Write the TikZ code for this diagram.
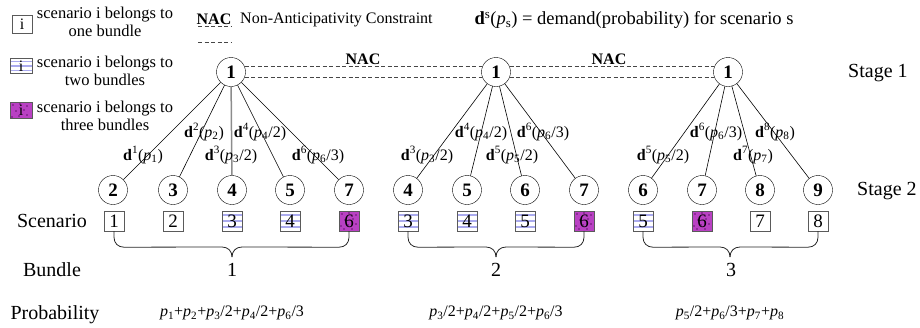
\documentclass[tikz,border=0pt]{standalone}
\usepackage{fontspec}
\setmainfont{Liberation Serif}
\usetikzlibrary{calc}
\definecolor{stripecol}{RGB}{170,170,238}
\definecolor{purp}{RGB}{185,65,195}
\definecolor{purpdot}{RGB}{100,20,110}
\definecolor{boxgray}{RGB}{90,90,90}
\definecolor{dashgray}{RGB}{70,70,70}
\newcommand\myfs[1]{\fontsize{#1}{#1}\selectfont}
\newcommand\dd[3]{\textbf{d}\textsuperscript{#1}(\textit{p}\textsubscript{#2}#3)}
\newcommand\ps[1]{\textit{p}\textsubscript{#1}}
\begin{document}
\begin{tikzpicture}[x=1pt,y=-1pt,
  stnode/.style={circle,draw,minimum size=29pt,inner sep=0pt,font=\myfs{19}\bfseries},
  onebox/.style={draw=boxgray,minimum width=20pt,minimum height=20pt,inner sep=0pt,font=\myfs{19}},
  twobox/.style={onebox,path picture={\foreach \f in {0.2,0.5,0.8}\draw[stripecol,line width=1.8pt] ($(path picture bounding box.south west)!\f!(path picture bounding box.north west)$) -- ($(path picture bounding box.south east)!\f!(path picture bounding box.north east)$);}},
  threebox/.style={onebox,fill=purp,path picture={\foreach \x/\y in {3/3,10/2,17/4,6/9,14/8,2/15,9/14,17/13,5/18,13/18} \fill[purpdot] ($(path picture bounding box.north west)+(\x pt,-\y pt)$) circle (0.9pt);}},
  edge/.style={line width=0.6pt},
  nacline/.style={draw=dashgray,dash pattern=on 4pt off 2.5pt,line width=0.6pt},
  elab/.style={font=\myfs{16},inner sep=0pt},
  big/.style={font=\myfs{20},inner sep=0pt},
  brace/.style={line width=0.8pt,draw=black!85},
  legtext/.style={font=\myfs{16.5},align=center,inner sep=0pt}
]
\useasboundingbox (0,0) rectangle (920,327);

% legend
\node[onebox,minimum width=20pt,minimum height=18pt,font=\myfs{16}] (lg1) at (22,24) {i};
\node[twobox,minimum width=22pt,minimum height=15pt,font=\myfs{16}] (lg2) at (21,66) {i};
\node[threebox,minimum width=22pt,minimum height=16pt,font=\myfs{16}] (lg3) at (21,110) {i};
\node[legtext] (lt1) at (105,22) {scenario i belongs to\\[1pt]one bundle};
\node[legtext] (lt2) at (105,71) {scenario i belongs to\\[1pt]two bundles};
\node[legtext] (lt3) at (105,116) {scenario i belongs to\\[1pt]three bundles};
\node[font=\myfs{16}\bfseries,inner sep=0pt] (lnac) at (214,19) {NAC};
\coordinate (ln1a) at (198,26); \coordinate (ln1b) at (231,26);
\coordinate (ln2a) at (198,42); \coordinate (ln2b) at (231,42);
\draw[nacline] (ln1a) -- (ln1b);
\draw[nacline] (ln2a) -- (ln2b);
\node[font=\myfs{16},inner sep=0pt,anchor=west] (lnt) at (240,20) {Non-Anticipativity Constraint};
\node[font=\myfs{18.5},inner sep=0pt] (ldef) at (634,20) {\textbf{d}\textsuperscript{s}(\textit{p}\textsubscript{s}) = demand(probability) for scenario s};

% stage 1
\node[stnode] (r1) at (231,72) {1};
\node[stnode] (r2) at (496,72) {1};
\node[stnode] (r3) at (728,72) {1};
\draw[nacline] (r1.22) -- (r2.158);
\draw[nacline] (r1.-22) -- (r2.-158);
\draw[nacline] (r2.22) -- (r3.158);
\draw[nacline] (r2.-22) -- (r3.-158);
\node[font=\myfs{16}\bfseries,inner sep=0pt] (nac1) at (363,59) {NAC};
\node[font=\myfs{16}\bfseries,inner sep=0pt] (nac2) at (609,59) {NAC};
\node[big,anchor=west] (s1) at (848,73) {Stage 1};
\node[big,anchor=west] (s2) at (857,191) {Stage 2};

% stage 2 nodes
\node[stnode] (a1) at (113,190) {2};
\node[stnode] (a2) at (173,190) {3};
\node[stnode] (a3) at (232,190) {4};
\node[stnode] (a4) at (290,190) {5};
\node[stnode] (a5) at (349,190) {7};
\node[stnode] (b1) at (408,190) {4};
\node[stnode] (b2) at (467,190) {5};
\node[stnode] (b3) at (525,190) {6};
\node[stnode] (b4) at (584,190) {7};
\node[stnode] (c1) at (643,190) {6};
\node[stnode] (c2) at (702,190) {7};
\node[stnode] (c3) at (760,190) {8};
\node[stnode] (c4) at (818,190) {9};

% edges
\draw[edge] (r1) -- (a1);
\draw[edge] (r1) -- (a2);
\draw[line width=1.5pt,draw=black!45] (r1) -- (a3);
\draw[edge] (r1) -- (a4);
\draw[edge] (r1) -- (a5);
\draw[edge] (r2) -- (b1);
\draw[edge] (r2) -- (b2);
\draw[edge] (r2) -- (b3);
\draw[edge] (r2) -- (b4);
\draw[edge] (r3) -- (c1);
\draw[edge] (r3) -- (c2);
\draw[edge] (r3) -- (c3);
\draw[edge] (r3) -- (c4);

% edge labels
\node[elab] (e11) at (143,155) {\dd{1}{1}{}};
\node[elab] (e12) at (204,132) {\dd{2}{2}{}};
\node[elab] (e13) at (231,155) {\dd{3}{3}{/2}};
\node[elab] (e14) at (260,132) {\dd{4}{4}{/2}};
\node[elab] (e15) at (318,155) {\dd{6}{6}{/3}};
\node[elab] (e21) at (427,155) {\dd{3}{3}{/2}};
\node[elab] (e22) at (481,132) {\dd{4}{4}{/2}};
\node[elab] (e23) at (512,155) {\dd{5}{5}{/2}};
\node[elab] (e24) at (543,132) {\dd{6}{6}{/3}};
\node[elab] (e31) at (663,155) {\dd{5}{5}{/2}};
\node[elab] (e32) at (716,132) {\dd{6}{6}{/3}};
\node[elab] (e33) at (753,155) {\dd{7}{7}{}};
\node[elab] (e34) at (775,132) {\dd{8}{8}{}};

% scenario boxes
\node[big] (scl) at (52,221) {Scenario};
\node[onebox] (sa1) at (114,221) {1};
\node[onebox] (sa2) at (173,221) {2};
\node[twobox] (sa3) at (232,221) {3};
\node[twobox] (sa4) at (290,221) {4};
\node[threebox] (sa5) at (349,221) {6};
\node[twobox] (sb1) at (408,221) {3};
\node[twobox] (sb2) at (467,221) {4};
\node[twobox] (sb3) at (525,221) {5};
\node[threebox] (sb4) at (584,221) {6};
\node[twobox] (sc1) at (643,221) {5};
\node[threebox] (sc2) at (702,221) {6};
\node[onebox] (sc3) at (760,221) {7};
\node[onebox] (sc4) at (818,221) {8};

% braces
\coordinate (t1) at (232,257);
\coordinate (t2) at (496,257);
\coordinate (t3) at (730,257);
\draw[brace] (sa1.south) -- ++(0,6) .. controls +(0,6) and +(-6,0) .. ++(10,10) -- ($(t1)+(-10,-10)$) .. controls +(6,0) and +(0,-6) .. (t1);
\draw[brace] (sa5.south) -- ++(0,6) .. controls +(0,6) and +(6,0) .. ++(-10,10) -- ($(t1)+(10,-10)$) .. controls +(-6,0) and +(0,-6) .. (t1);
\draw[brace] (sb1.south) -- ++(0,6) .. controls +(0,6) and +(-6,0) .. ++(10,10) -- ($(t2)+(-10,-10)$) .. controls +(6,0) and +(0,-6) .. (t2);
\draw[brace] (sb4.south) -- ++(0,6) .. controls +(0,6) and +(6,0) .. ++(-10,10) -- ($(t2)+(10,-10)$) .. controls +(-6,0) and +(0,-6) .. (t2);
\draw[brace] (sc1.south) -- ++(0,6) .. controls +(0,6) and +(-6,0) .. ++(10,10) -- ($(t3)+(-10,-10)$) .. controls +(6,0) and +(0,-6) .. (t3);
\draw[brace] (sc4.south) -- ++(0,6) .. controls +(0,6) and +(6,0) .. ++(-10,10) -- ($(t3)+(10,-10)$) .. controls +(-6,0) and +(0,-6) .. (t3);

% bundle row
\node[big] (bl) at (52,270) {Bundle};
\node[big] (bn1) at (232,270) {1};
\node[big] (bn2) at (496,270) {2};
\node[big] (bn3) at (731,270) {3};

% probability row
\node[big] (pl) at (55,315) {Probability};
\node[font=\myfs{16},inner sep=0pt] (pr1) at (232,313) {\ps{1}+\ps{2}+\ps{3}/2+\ps{4}/2+\ps{6}/3};
\node[font=\myfs{16},inner sep=0pt] (pr2) at (496,313) {\ps{3}/2+\ps{4}/2+\ps{5}/2+\ps{6}/3};
\node[font=\myfs{16},inner sep=0pt] (pr3) at (730,313) {\ps{5}/2+\ps{6}/3+\ps{7}+\ps{8}};
\end{tikzpicture}
\end{document}
